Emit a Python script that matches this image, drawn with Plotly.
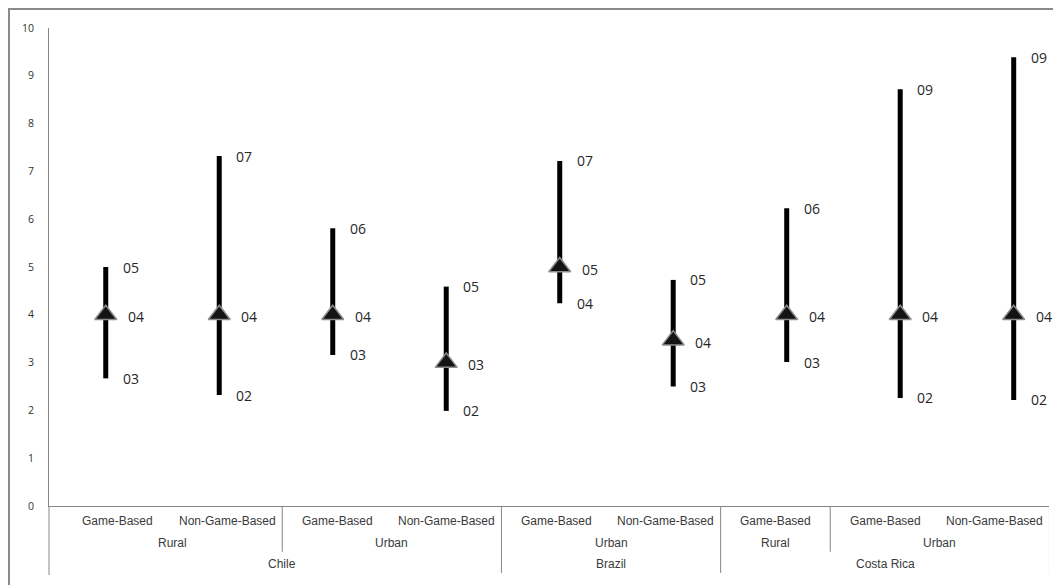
import plotly.graph_objects as go

# ---- data ----
countries = ["Chile", "Chile", "Chile", "Chile", "Brazil", "Brazil", "Costa Rica", "Costa Rica", "Costa Rica"]
settings = ["Rural", "Rural", "Urban", "Urban", "Urban", "Urban", "Rural", "Urban", "Urban"]
types = ["Game-Based", "Non-Game-Based", "Game-Based", "Non-Game-Based", "Game-Based",
         "Non-Game-Based", "Game-Based", "Game-Based", "Non-Game-Based"]
low = [2.67, 2.32, 3.16, 1.99, 4.24, 2.50, 3.01, 2.26, 2.22]
high = [5.00, 7.32, 5.81, 4.59, 7.22, 4.73, 6.23, 8.72, 9.39]
mean = [4.0, 4.0, 4.0, 3.0, 5.0, 3.47, 4.0, 4.0, 4.0]
high_labels = ["05", "07", "06", "05", "07", "05", "06", "09", "09"]
mean_labels = ["04", "04", "04", "03", "05", "04", "04", "04", "04"]
low_labels = ["03", "02", "03", "02", "04", "03", "03", "02", "02"]
y_ticks = list(range(0, 11))

n = len(types)
idx = list(range(n))

# whiskers
wx, wy = [], []
for i in idx:
    wx += [i, i, None]
    wy += [low[i], high[i], None]

fig = go.Figure()
fig.add_trace(go.Scatter(x=wx, y=wy, mode="lines",
                         line=dict(color="black", width=5),
                         hoverinfo="skip", showlegend=False))
fig.add_trace(go.Scatter(x=idx, y=mean, mode="markers",
                         marker=dict(symbol="triangle-up", size=19, color="#141414",
                                     line=dict(color="#8c8c8c", width=1.5)),
                         showlegend=False))
# dummy trace for the category-table axis
fig.add_trace(go.Scatter(x=[], y=[], xaxis="x2", showlegend=False))

label_font = dict(family="Open Sans", size=14, color="#262626")
ann = []
for i in idx:
    ann.append(dict(x=i, y=high[i], xref="x", yref="y", text=high_labels[i], showarrow=False,
                    xanchor="left", yanchor="middle", xshift=15, font=label_font))
    ann.append(dict(x=i, y=mean[i], xref="x", yref="y", text=mean_labels[i], showarrow=False,
                    xanchor="left", yanchor="middle", xshift=20, yshift=-2, font=label_font))
    ann.append(dict(x=i, y=low[i], xref="x", yref="y", text=low_labels[i], showarrow=False,
                    xanchor="left", yanchor="middle", xshift=15, font=label_font))

# category table
cat_font = dict(family="Liberation Sans", size=12, color="#3a3a3a")
row_y = [-0.0308, -0.0767, -0.1220]
for i in idx:
    ann.append(dict(x=i, y=row_y[0], xref="x2", yref="paper", text=types[i], showarrow=False,
                    xanchor="center", yanchor="middle", font=cat_font))


def runs(keys):
    out = []
    start = 0
    for i in range(1, len(keys) + 1):
        if i == len(keys) or keys[i] != keys[start]:
            out.append((start, i - 1))
            start = i
    return out


lvl2 = runs(list(zip(countries, settings)))
lvl3 = runs(countries)
for a, b in lvl2:
    ann.append(dict(x=(a + b) / 2, y=row_y[1], xref="x2", yref="paper", text=settings[a],
                    showarrow=False, xanchor="center", yanchor="middle", font=cat_font))
for a, b in lvl3:
    ann.append(dict(x=(a + b) / 2, y=row_y[2], xref="x2", yref="paper", text=countries[a],
                    showarrow=False, xanchor="center", yanchor="middle", font=cat_font))

axis_col = "#868686"
shapes = []
lvl3_ends = set(b for a, b in lvl3)
for a, b in lvl2:
    bottom = -0.1402 if b in lvl3_ends else -0.0957
    shapes.append(dict(type="line", xref="x2", yref="paper", x0=b + 0.5, x1=b + 0.5,
                       y0=0, y1=bottom, line=dict(color=axis_col, width=1)))
# left axis extension
shapes.append(dict(type="line", xref="paper", yref="paper", x0=0, x1=0, y0=0, y1=-0.1445,
                   line=dict(color=axis_col, width=1)))
# outer frame
shapes.append(dict(type="rect", xref="paper", yref="paper", x0=-0.040, x1=1.2,
                   y0=-0.5, y1=1.0397, line=dict(color="#8a8a8a", width=2)))

fig.update_layout(
    width=1053, height=577,
    margin=dict(l=41, r=12, t=20, b=79),
    paper_bgcolor="white", plot_bgcolor="white",
    xaxis=dict(range=[-0.5, 8.311], showgrid=False, zeroline=False, showticklabels=False,
               showline=True, linecolor=axis_col, linewidth=1, ticks=""),
    xaxis2=dict(range=[-0.628, 8.496], overlaying="x", visible=False, showgrid=False),
    yaxis=dict(range=[0, 10], tickvals=y_ticks, showgrid=False, zeroline=False,
               showline=True, linecolor=axis_col, linewidth=1, ticks="",
               ticklabelstandoff=12,
               tickfont=dict(family="Open Sans", size=10.5, color="#333333")),
    annotations=ann,
    shapes=shapes,
    showlegend=False,
)

fig.write_html("out.html")
